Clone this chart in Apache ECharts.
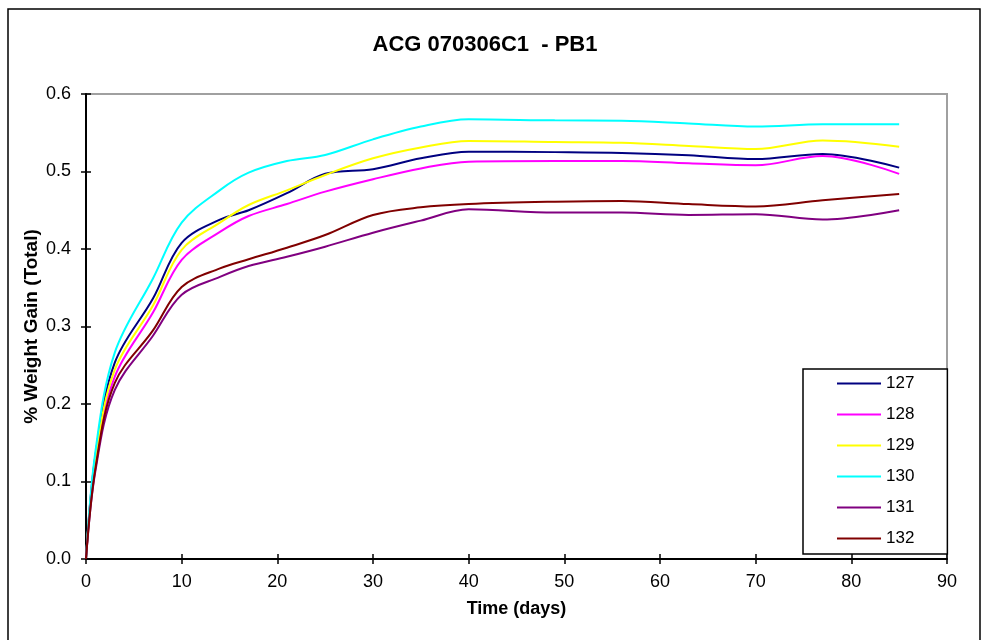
<!DOCTYPE html>
<html>
<head>
<meta charset="utf-8">
<script src="https://cdn.jsdelivr.net/npm/echarts@6/dist/echarts.min.js"></script>
<style>
html,body{margin:0;padding:0;background:#fff;}
#c{width:984px;height:640px;}
</style>
</head>
<body>
<div id="c"></div>
<script>
var days = [0, 1, 3, 7, 10, 14, 17, 21, 25, 30, 35, 40, 49, 56, 63, 70, 77, 85];
var s127 = [0, 0.135, 0.253, 0.336, 0.408, 0.438, 0.450, 0.472, 0.497, 0.503, 0.517, 0.5256, 0.525, 0.524, 0.521, 0.516, 0.5226, 0.505];
var s128 = [0, 0.128, 0.235, 0.318, 0.386, 0.422, 0.4426, 0.458, 0.474, 0.490, 0.504, 0.5127, 0.5135, 0.5135, 0.5105, 0.508, 0.520, 0.497];
var s129 = [0, 0.130, 0.244, 0.327, 0.399, 0.434, 0.4568, 0.4757, 0.4955, 0.517, 0.531, 0.5394, 0.538, 0.537, 0.533, 0.529, 0.540, 0.532];
var s130 = [0, 0.140, 0.266, 0.362, 0.434, 0.476, 0.4985, 0.5135, 0.5213, 0.5415, 0.558, 0.5673, 0.566, 0.5656, 0.562, 0.558, 0.561, 0.561];
var s131 = [0, 0.115, 0.218, 0.288, 0.341, 0.364, 0.378, 0.390, 0.403, 0.421, 0.4366, 0.4512, 0.447, 0.447, 0.444, 0.445, 0.438, 0.450];
var s132 = [0, 0.118, 0.227, 0.295, 0.351, 0.375, 0.3867, 0.4017, 0.418, 0.4439, 0.4538, 0.458, 0.461, 0.462, 0.458, 0.455, 0.463, 0.471];
var seriesNames = ['127', '128', '129', '130', '131', '132'];
var seriesColors = ['#000080', '#FF00FF', '#FFFF00', '#00FFFF', '#800080', '#800000'];
var seriesValues = [s127, s128, s129, s130, s131, s132];
var titleText = 'ACG 070306C1  - PB1';
var xTitle = 'Time (days)';
var yTitle = '% Weight Gain (Total)';

var FONT = '"Liberation Sans", Arial, sans-serif';

function pairs(vals) {
  return days.map(function (d, i) { return [d, vals[i]]; });
}

var series = seriesNames.map(function (n, i) {
  return {
    name: n,
    type: 'line',
    data: pairs(seriesValues[i]),
    xAxisIndex: 0,
    yAxisIndex: 0,
    smooth: 0.35,
    symbol: 'none',
    showSymbol: false,
    lineStyle: { color: seriesColors[i], width: 2 },
    itemStyle: { color: seriesColors[i] },
    z: 3
  };
});

var chart = echarts.init(document.getElementById('c'), null, { renderer: 'canvas' });
chart.setOption({
  animation: false,
  backgroundColor: '#fff',
  textStyle: { fontFamily: FONT },
  title: {
    text: titleText,
    left: 480,
    textAlign: 'center',
    top: 29,
    textStyle: { fontFamily: FONT, fontSize: 22, fontWeight: 'bold', color: '#000' }
  },
  graphic: [{
    type: 'rect',
    shape: { x: 8, y: 9, width: 972, height: 700 },
    style: { fill: 'none', stroke: '#000', lineWidth: 1.5 },
    silent: true,
    z: 0
  }],
  grid: {
    left: 86, right: 37, top: 94, bottom: 81,
    show: true, borderColor: '#a0a0a0', borderWidth: 2, backgroundColor: 'transparent'
  },
  legend: {
    orient: 'vertical',
    left: 803, top: 369,
    padding: [6, 33, 7, 33],
    itemWidth: 44, itemHeight: 14, itemGap: 14,
    backgroundColor: '#fff',
    borderColor: '#000', borderWidth: 1.5,
    itemStyle: { opacity: 0, borderWidth: 0 },
    textStyle: { fontFamily: FONT, fontSize: 17, color: '#000' },
    data: seriesNames
  },
  xAxis: [{
    type: 'value', min: 0, max: 90, interval: 10,
    name: xTitle, nameLocation: 'middle', nameGap: 41, nameMoveOverlap: false,
    nameTextStyle: { fontFamily: FONT, fontSize: 18, fontWeight: 'bold', color: '#000' },
    axisLine: { show: true, onZero: false, lineStyle: { color: '#000', width: 2 } },
    axisTick: { show: true, length: 5, lineStyle: { color: '#000', width: 1.5 } },
    axisLabel: { fontFamily: FONT, fontSize: 18, color: '#000', margin: 14 },
    splitLine: { show: false }
  }, {
    type: 'value', min: 0, max: 90, interval: 10, position: 'bottom',
    axisLine: { show: false },
    axisTick: { show: true, inside: true, length: 5, lineStyle: { color: '#000', width: 1.5 } },
    axisLabel: { show: false },
    splitLine: { show: false }
  }],
  yAxis: [{
    type: 'value', min: 0, max: 0.6, interval: 0.1,
    name: yTitle, nameLocation: 'middle', nameGap: 45, nameMoveOverlap: false,
    nameTextStyle: { fontFamily: FONT, fontSize: 19, fontWeight: 'bold', color: '#000' },
    axisLine: { show: true, onZero: false, lineStyle: { color: '#000', width: 2 } },
    axisTick: { show: true, length: 5, lineStyle: { color: '#000', width: 1.5 } },
    axisLabel: { fontFamily: FONT, fontSize: 18, color: '#000', margin: 15,
      formatter: function (v) { return v.toFixed(1); } },
    splitLine: { show: false }
  }, {
    type: 'value', min: 0, max: 0.6, interval: 0.1, position: 'left',
    axisLine: { show: false },
    axisTick: { show: true, inside: true, length: 5, lineStyle: { color: '#000', width: 1.5 } },
    axisLabel: { show: false },
    splitLine: { show: false }
  }],
  series: series
});
</script>
</body>
</html>
